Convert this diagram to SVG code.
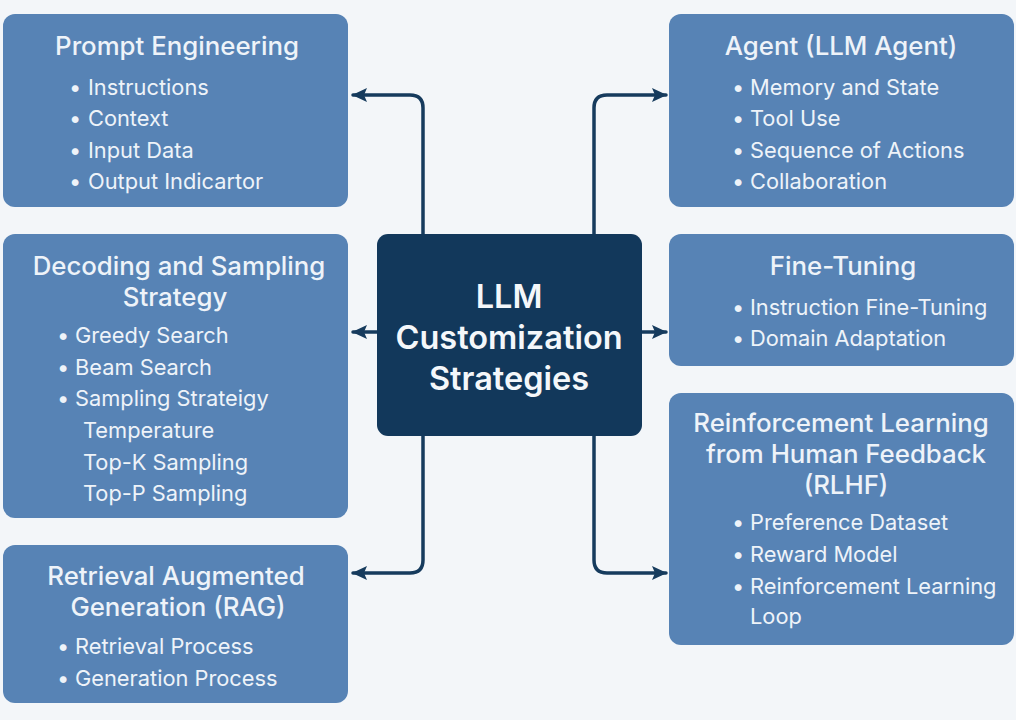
<svg xmlns="http://www.w3.org/2000/svg" width="1016" height="720" viewBox="0 0 1016 720">
<style>
.box{fill:#5783b5;}
.core{fill:#12385b;}
.t{font-family:Inter,"Liberation Sans",sans-serif;fill:#eef3f9;}
.h{font-size:25.8px;font-weight:500;text-anchor:middle;}
.i{font-size:21.8px;}
.c{font-size:32.5px;font-weight:600;text-anchor:middle;fill:#f4f7fa;}
.ln{fill:none;stroke:#163b5d;stroke-width:3.5;stroke-linecap:round;stroke-linejoin:round;}
</style>
<defs>
<marker id="ah" markerUnits="userSpaceOnUse" markerWidth="16" markerHeight="16" viewBox="0 0 16 16" refX="14" refY="8" orient="auto">
<path d="M0,1 L15,8 L0,15 L3,8 Z" fill="#163b5d"/>
</marker>
</defs>
<rect width="1016" height="720" fill="#f3f6f9"/>
<g id="connectors">
<path class="ln" d="M423,234 V108 Q423,95 410,95 H353" marker-end="url(#ah)"/>
<path class="ln" d="M594,234 V108 Q594,95 607,95 H666" marker-end="url(#ah)"/>
<path class="ln" d="M377,332 H353" marker-end="url(#ah)"/>
<path class="ln" d="M642,332 H666" marker-end="url(#ah)"/>
<path class="ln" d="M423,436 V560 Q423,573 410,573 H353" marker-end="url(#ah)"/>
<path class="ln" d="M594,436 V560 Q594,573 607,573 H666" marker-end="url(#ah)"/>
</g>
<g id="center">
<rect class="core" x="377" y="234" width="265" height="202" rx="11"/>
<text class="t c" x="509" y="308">LLM</text>
<text class="t c" x="509" y="349">Customization</text>
<text class="t c" x="509" y="390">Strategies</text>
</g>
<g id="prompt">
<rect class="box" x="3" y="14" width="345" height="193" rx="12"/>
<text class="t h" x="177" y="55">Prompt Engineering</text>
<text class="t i" y="95"><tspan x="69">•</tspan><tspan x="88">Instructions</tspan></text>
<text class="t i" y="126"><tspan x="69">•</tspan><tspan x="88">Context</tspan></text>
<text class="t i" y="158"><tspan x="69">•</tspan><tspan x="88">Input Data</tspan></text>
<text class="t i" y="189"><tspan x="69">•</tspan><tspan x="88">Output Indicartor</tspan></text>
</g>
<g id="decoding">
<rect class="box" x="3" y="234" width="345" height="284" rx="12"/>
<text class="t h" x="179" y="275">Decoding and Sampling</text>
<text class="t h" x="175" y="306">Strategy</text>
<text class="t i" y="343"><tspan x="57">•</tspan><tspan x="75">Greedy Search</tspan></text>
<text class="t i" y="375"><tspan x="57">•</tspan><tspan x="75">Beam Search</tspan></text>
<text class="t i" y="406"><tspan x="57">•</tspan><tspan x="75">Sampling Strateigy</tspan></text>
<text class="t i" x="83" y="438">Temperature</text>
<text class="t i" x="83" y="470">Top-K Sampling</text>
<text class="t i" x="83" y="501">Top-P Sampling</text>
</g>
<g id="rag">
<rect class="box" x="3" y="545" width="345" height="158" rx="12"/>
<text class="t h" x="176" y="585">Retrieval Augmented</text>
<text class="t h" x="178" y="616">Generation (RAG)</text>
<text class="t i" y="654"><tspan x="57">•</tspan><tspan x="75">Retrieval Process</tspan></text>
<text class="t i" y="686"><tspan x="57">•</tspan><tspan x="75">Generation Process</tspan></text>
</g>
<g id="agent">
<rect class="box" x="669" y="14" width="345" height="193" rx="12"/>
<text class="t h" x="841" y="55">Agent (LLM Agent)</text>
<text class="t i" y="95"><tspan x="732">•</tspan><tspan x="750">Memory and State</tspan></text>
<text class="t i" y="126"><tspan x="732">•</tspan><tspan x="750">Tool Use</tspan></text>
<text class="t i" y="158"><tspan x="732">•</tspan><tspan x="750">Sequence of Actions</tspan></text>
<text class="t i" y="189"><tspan x="732">•</tspan><tspan x="750">Collaboration</tspan></text>
</g>
<g id="finetuning">
<rect class="box" x="669" y="234" width="345" height="132" rx="12"/>
<text class="t h" x="843" y="275">Fine-Tuning</text>
<text class="t i" y="315"><tspan x="732">•</tspan><tspan x="750">Instruction Fine-Tuning</tspan></text>
<text class="t i" y="346"><tspan x="732">•</tspan><tspan x="750">Domain Adaptation</tspan></text>
</g>
<g id="rlhf">
<rect class="box" x="669" y="393" width="345" height="252" rx="12"/>
<text class="t h" x="841" y="432">Reinforcement Learning</text>
<text class="t h" x="846" y="463">from Human Feedback</text>
<text class="t h" x="846" y="494">(RLHF)</text>
<text class="t i" y="530"><tspan x="732">•</tspan><tspan x="750">Preference Dataset</tspan></text>
<text class="t i" y="562"><tspan x="732">•</tspan><tspan x="750">Reward Model</tspan></text>
<text class="t i" y="594"><tspan x="732">•</tspan><tspan x="750">Reinforcement Learning</tspan></text>
<text class="t i" x="750" y="624">Loop</text>
</g>
</svg>
